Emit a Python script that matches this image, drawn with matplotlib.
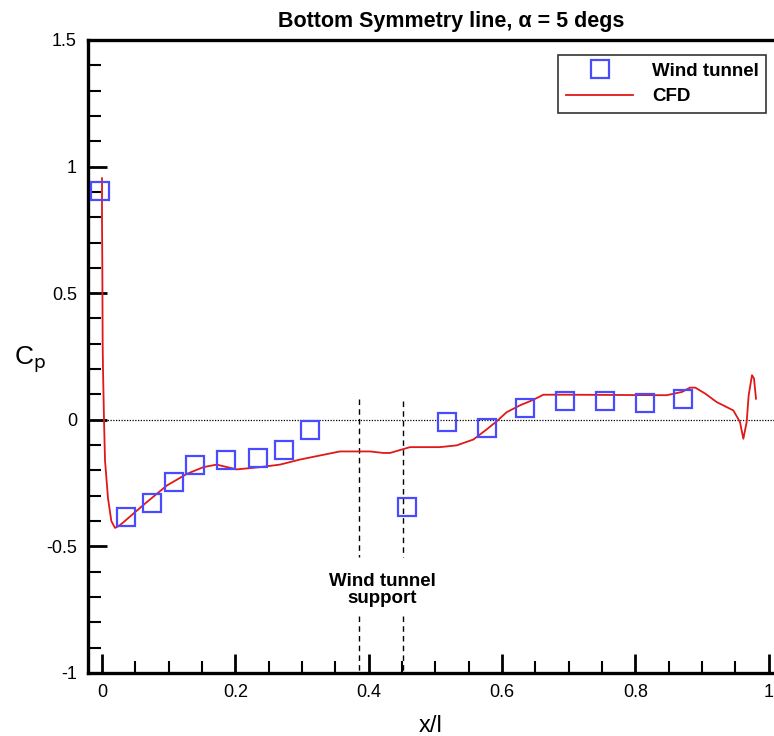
import matplotlib
matplotlib.use("Agg")
import matplotlib.pyplot as plt
from matplotlib.ticker import MultipleLocator

plt.rcParams['font.family'] = ['Liberation Sans', 'DejaVu Sans']

# Wind tunnel measurements
wt_x = [-0.003, 0.036, 0.075, 0.108, 0.140, 0.186, 0.234, 0.273, 0.312,
        0.458, 0.518, 0.578, 0.635, 0.695, 0.755, 0.814, 0.872]
wt_cp = [0.905, -0.382, -0.328, -0.244, -0.178, -0.157, -0.152, -0.119, -0.040,
         -0.345, -0.008, -0.034, 0.046, 0.073, 0.073, 0.067, 0.083]

# CFD curve
cfd_x = [0.000, 0.000, 0.000, 0.0005, 0.001, 0.0015, 0.003, 0.0045, 0.009, 0.014, 0.0195,
         0.025, 0.032, 0.0495, 0.065, 0.082, 0.097, 0.127, 0.152, 0.172, 0.202, 0.237, 0.267,
         0.297, 0.327, 0.357, 0.402, 0.422, 0.432, 0.462, 0.507, 0.532, 0.557,
         0.577, 0.592, 0.607, 0.627, 0.647, 0.662, 0.697, 0.847, 0.870, 0.882, 0.890,
         0.905, 0.922, 0.947, 0.957, 0.962, 0.967, 0.970, 0.975, 0.978, 0.981]
cfd_cp = [0.954, 0.90, 0.79, 0.60, 0.296, 0.20, 0.0, -0.16, -0.31, -0.40, -0.427,
          -0.420, -0.405, -0.365, -0.330, -0.293, -0.260, -0.214, -0.187, -0.177, -0.196, -0.187, -0.177,
          -0.157, -0.141, -0.125, -0.125, -0.131, -0.131, -0.108, -0.108, -0.101, -0.078,
          -0.038, -0.006, 0.030, 0.057, 0.079, 0.099, 0.099, 0.097, 0.110, 0.127, 0.127,
          0.103, 0.070, 0.037, -0.009, -0.075, -0.009, 0.097, 0.176, 0.163, 0.083]

support_x = [0.385, 0.451]
support_top = [0.083, 0.075]

fig = plt.figure(figsize=(7.74, 7.36), dpi=100)
ax = fig.add_axes([0.1137, 0.0856, 0.8863, 0.8601])

ax.axhline(0, color='black', linestyle=(0, (1, 1.2)), linewidth=0.9, zorder=1)
for sx, st in zip(support_x, support_top):
    ax.plot([sx, sx], [st, -0.54], color='black', linestyle=(0, (4, 3)), linewidth=1.0)
    ax.plot([sx, sx], [-0.775, -1.0], color='black', linestyle=(0, (4, 3)), linewidth=1.0)

ax.plot(cfd_x, cfd_cp, color='#e01818', linewidth=1.3, label='CFD', zorder=2)
ax.plot(wt_x, wt_cp, linestyle='none', marker='s', markersize=12.5, markerfacecolor='none',
        markeredgecolor='#4a4aff', markeredgewidth=1.6, label='Wind tunnel', zorder=3)

ax.text(0.42, -0.672, 'Wind tunnel\nsupport', ha='center', va='center', fontsize=13.5,
        fontweight='bold', linespacing=1.0)

ax.set_xlim(-0.021, 1.008)
ax.set_ylim(-1.0, 1.5)
ax.xaxis.set_minor_locator(MultipleLocator(0.05))
ax.yaxis.set_minor_locator(MultipleLocator(0.1))
ax.set_xticks([0, 0.2, 0.4, 0.6, 0.8, 1.0])
ax.set_xticklabels(['0', '0.2', '0.4', '0.6', '0.8', '1'])
ax.set_yticks([-1, -0.5, 0, 0.5, 1, 1.5])
ax.set_yticklabels(['-1', '-0.5', '0', '0.5', '1', '1.5'])
ax.tick_params(which='major', direction='in', length=14, width=2, labelsize=13, pad=8)
ax.tick_params(which='minor', direction='in', length=9, width=1.5)
ax.spines['right'].set_visible(False)
for s in ['left', 'bottom', 'top']:
    ax.spines[s].set_linewidth(2.4)

ax.set_title('Bottom Symmetry line, α = 5 degs', fontsize=15.5, fontweight='bold', pad=9, x=0.529)
ax.set_xlabel('x/l', fontsize=17, labelpad=10)
ax.set_ylabel(r'C$_\mathrm{p}$', fontsize=19, rotation=0, labelpad=22)
ax.yaxis.set_label_coords(-0.085, 0.47)

handles, labels = ax.get_legend_handles_labels()
leg = ax.legend(handles[::-1], labels[::-1], loc='upper right', bbox_to_anchor=(0.989, 0.976),
                prop={'size': 13.5, 'weight': 'bold'}, frameon=True, fancybox=False,
                edgecolor='black', handlelength=3.6, handletextpad=1.0,
                borderpad=0.4, labelspacing=0.45, borderaxespad=0.0)
leg.get_frame().set_linewidth(1.2)

fig.savefig('out.png', dpi=100)
